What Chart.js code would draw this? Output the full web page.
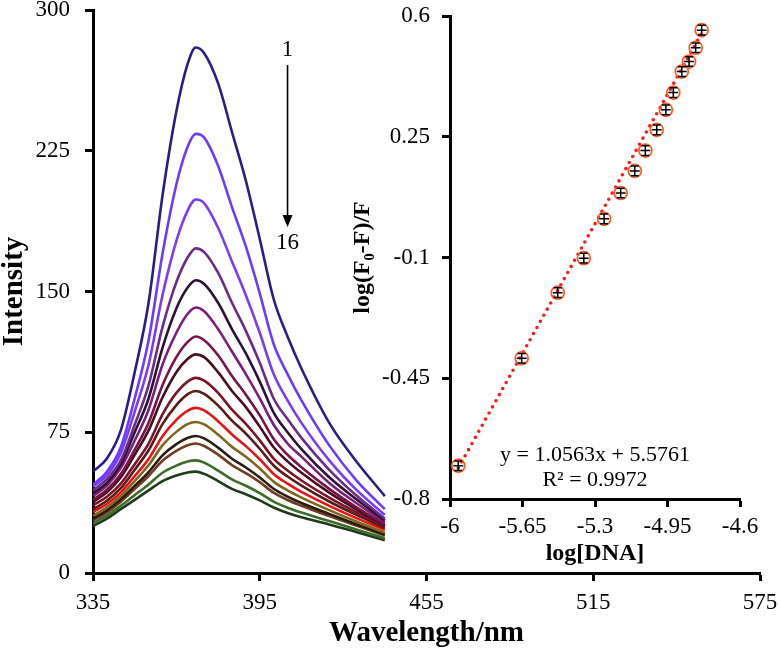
<!DOCTYPE html>
<html><head><meta charset="utf-8">
<script src="https://cdn.jsdelivr.net/npm/chart.js@4.4.0/dist/chart.umd.min.js"></script>
<style>
html,body{margin:0;padding:0;background:#fff;}
#wrap{position:relative;width:779px;height:652px;}
.box{position:absolute;top:0;}
</style></head><body>
<div id="wrap">
  <div class="box" style="left:0;width:779px;height:652px"><canvas id="main"></canvas></div>
  <div class="box" style="left:330px;width:449px;height:580px"><canvas id="inset"></canvas></div>
</div>
<script>
// ---------- main chart data ----------
const wavelengths = [335,340,345,350,355,360,365,369,372,375,380,385,390,395,400,405,410,420,430,440];
const spectrum1  = [54,61,76,107,144,201,246,271,280,277,261,235,209,178,146,126,109,80,59,41];
const spectrum2  = [47,54,67,93,124,170,207,227,234,232,217,195,174,149,122,106,92,68,49,34];
const spectrum3  = [46,52,64,86,111,148,177,193,199,197,184,166,148,128,106,92,80,60,44,31];
const spectrum4  = [44,50,60,79,100,131,155,168,173,171,160,144,129,112,93,82,72,55,41,29];
const spectrum5  = [42.5,48,58,75,93,120,141,152,156,154,144,130,117,102,85.5,75,66,51,39,28];
const spectrum6  = [41,46.6,56,70.6,87,111,128,138,141.5,139.5,130,118,106,93,79,69,62,48,37,27];
const spectrum7  = [39,44.4,52.7,65.7,80,100,115,123,126,124,116,105,95,84,71.4,63,56.4,44.8,34.8,26];
const spectrum8  = [38,43,51,63,76,93.5,107,114,116.5,115,107,97,88.4,78,67,59.5,53.4,42.8,33.7,25.5];
const spectrum9  = [36,40.6,47.6,58,69,84.5,96,102,104,102.5,96,87,79.5,70.7,61,54.6,49.3,40.2,32.2,25];
const spectrum10 = [34,38.5,45.2,55,65.4,79.3,89.5,95.2,97,95.5,89.3,81.2,74.3,66.2,57.3,51.4,46.6,38.1,30.8,24];
const spectrum11 = [32.5,36.8,43,51.6,60.8,72.9,81.6,86.4,88,86.6,80.9,73.8,67.6,60.6,52.8,47.6,43.2,35.8,29.1,23];
const spectrum12 = [30.5,35,41,49,57.4,68,75.2,79.3,80.5,79.2,73.8,67.2,61.9,55.7,48.7,44,40.2,33.5,27.3,21.5];
const spectrum13 = [29,33.4,39.3,46.4,53.8,62.7,68.7,71.9,73,71.7,66.8,60.9,56.2,50.9,44.9,40.7,37.3,31.5,25.8,20.5];
const spectrum14 = [28,32.3,38,44.8,51.7,59.8,65.1,68.1,69,67.7,63.1,57.5,53.2,48.4,42.8,38.9,35.8,30.3,25.1,20];
const spectrum15 = [26.5,30.6,35.8,41.5,47.2,53.4,57.2,59.4,60,58.8,54.6,49.9,46.5,42.6,38,34.8,32.2,27.7,23.1,18.5];
const spectrum16 = [25,29,34,39,44,49,52,53.6,54,52.8,49,44.8,42,38.7,34.9,32,29.7,25.9,21.7,17.5];
const spectra = [spectrum1,spectrum2,spectrum3,spectrum4,spectrum5,spectrum6,spectrum7,spectrum8,
                 spectrum9,spectrum10,spectrum11,spectrum12,spectrum13,spectrum14,spectrum15,spectrum16];
const curveColors = ['#2c1c88','#6b3bff','#7a3df5','#6a2c86','#2c1236','#7d1f78','#7a1448','#4a0c1e',
                     '#7a1428','#5a1c18','#e3141a','#80651c','#2b1c12','#6e3d22','#3d6b2a','#203a1c'];
const mainXTicks = [335,395,455,515,575];
const mainYTicks = [0,75,150,225,300];
// arrow annotation (data coordinates)
const arrowX = 405;
const arrowLabelTop = '1', arrowLabelTopY = 278.6;
const arrowStartY = 270.7, arrowEndY = 184.4;
const arrowLabelBottom = '16', arrowLabelBottomY = 175.8;

// ---------- inset data ----------
const logDNA   = [-5.960,-5.654,-5.480,-5.354,-5.256,-5.176,-5.108,-5.057,-5.002,-4.958,-4.922,-4.881,-4.846,-4.814,-4.785];
const logRatio = [-0.7035,-0.392,-0.202,-0.102,0.012,0.087,0.151,0.210,0.270,0.328,0.378,0.439,0.468,0.508,0.559];
const xErr = [0.024,0.024,0.024,0.024,0.024,0.024,0.024,0.024,0.024,0.024,0.024,0.024,0.024,0.024,0.024];
const yErr = [0.014,0.014,0.014,0.014,0.014,0.014,0.014,0.014,0.014,0.014,0.014,0.014,0.014,0.014,0.014];
const trendX = [-5.96,-4.785];
const trendY = [-0.71,0.55];
const insetXTicks  = [-6,-5.65,-5.3,-4.95,-4.6];
const insetXLabels = ['-6','-5.65','-5.3','-4.95','-4.6'];
const insetYTicks  = [-0.8,-0.45,-0.1,0.25,0.6];
const insetYLabels = ['-0.8','-0.45','-0.1','0.25','0.6'];
const equationText = 'y = 1.0563x + 5.5761';
const r2Text = 'R\u00B2 = 0.9972';
const equationX = -5.3, equationY = -0.6725, r2Y = -0.745;

const SERIF = "'Liberation Serif','Times New Roman',serif";

function axisCommon(){
  return {
    border:{display:true,color:'#000',width:3},
    grid:{display:true,drawOnChartArea:false,drawTicks:true,tickLength:8,tickWidth:3,tickColor:'#000',color:'#000'}
  };
}
function fixX(h){ return s=>{ s.height=h; s.paddingLeft=0; s.paddingRight=0; }; }
function fixY(w){ return s=>{ s.width=w; s.paddingTop=0; s.paddingBottom=0; }; }

// ---------- main chart ----------
const arrowPlugin = {
  id:'arrowPlugin',
  afterDatasetsDraw(chart){
    const {ctx, scales:{x,y}} = chart;
    const px = x.getPixelForValue(arrowX);
    ctx.save();
    ctx.fillStyle='#000'; ctx.strokeStyle='#000';
    ctx.font = "23px " + SERIF;
    ctx.textAlign='center'; ctx.textBaseline='middle';
    ctx.fillText(arrowLabelTop, px, y.getPixelForValue(arrowLabelTopY));
    ctx.fillText(arrowLabelBottom, px, y.getPixelForValue(arrowLabelBottomY));
    const y0 = y.getPixelForValue(arrowStartY), y1 = y.getPixelForValue(arrowEndY);
    ctx.lineWidth=1.6;
    ctx.beginPath(); ctx.moveTo(px,y0); ctx.lineTo(px,y1-10); ctx.stroke();
    ctx.beginPath(); ctx.moveTo(px,y1); ctx.lineTo(px-5,y1-12); ctx.lineTo(px+5,y1-12); ctx.closePath(); ctx.fill();
    ctx.restore();
  }
};

new Chart(document.getElementById('main'), {
  type:'line',
  data:{
    datasets: spectra.map((s,i)=>({
      data: wavelengths.map((w,j)=>({x:w,y:s[j]})),
      borderColor: curveColors[i],
      borderWidth: 2.6,
      pointRadius: 0,
      cubicInterpolationMode:'monotone',
      fill:false
    }))
  },
  options:{
    responsive:true, maintainAspectRatio:false, animation:false, devicePixelRatio:1,
    layout:{padding:{left:0,right:19,top:10,bottom:0}},
    plugins:{legend:{display:false},tooltip:{enabled:false}},
    scales:{
      x:Object.assign(axisCommon(),{
        type:'linear', min:335, max:575,
        afterBuildTicks:s=>{s.ticks = mainXTicks.map(v=>({value:v}));},
        afterFit:fixX(79),
        ticks:{color:'#000',font:{family:SERIF,size:23,lineHeight:0.8},padding:13,maxRotation:0,autoSkip:false,callback:v=>String(v)},
        title:{display:true,text:'Wavelength/nm',color:'#000',font:{family:SERIF,size:29,weight:'bold',lineHeight:1},padding:{top:0,bottom:3.5}}
      }),
      y:Object.assign(axisCommon(),{
        type:'linear', min:0, max:300,
        afterBuildTicks:s=>{s.ticks = mainYTicks.map(v=>({value:v}));},
        afterFit:fixY(93),
        ticks:{color:'#000',font:{family:SERIF,size:23,lineHeight:0.8},padding:15,autoSkip:false,callback:v=>String(v)},
        title:{display:true,text:'Intensity',color:'#000',font:{family:SERIF,size:29,weight:'bold',lineHeight:1},padding:{top:0,bottom:0}}
      })
    }
  },
  plugins:[arrowPlugin]
});

// ---------- inset chart ----------
const errorPlugin = {
  id:'errorPlugin',
  afterDatasetsDraw(chart){
    const {ctx, scales:{x,y}} = chart;
    ctx.save();
    ctx.strokeStyle='#000'; ctx.lineWidth=1.5;
    for(let i=0;i<logDNA.length;i++){
      const px=x.getPixelForValue(logDNA[i]), py=y.getPixelForValue(logRatio[i]);
      const t=y.getPixelForValue(logRatio[i]+yErr[i]), b=y.getPixelForValue(logRatio[i]-yErr[i]);
      const l=x.getPixelForValue(logDNA[i]-xErr[i]), r=x.getPixelForValue(logDNA[i]+xErr[i]);
      ctx.beginPath();
      ctx.moveTo(px,t); ctx.lineTo(px,b);
      ctx.moveTo(px-4,t); ctx.lineTo(px+4,t);
      ctx.moveTo(px-4,b); ctx.lineTo(px+4,b);
      ctx.moveTo(l,py); ctx.lineTo(r,py);
      ctx.stroke();
    }
    ctx.fillStyle='#000';
    ctx.font = "22px " + SERIF;
    ctx.textAlign='center'; ctx.textBaseline='middle';
    const ex=x.getPixelForValue(equationX);
    ctx.fillText(equationText, ex, y.getPixelForValue(equationY));
    ctx.fillText(r2Text, ex, y.getPixelForValue(r2Y));
    ctx.restore();
  }
};

new Chart(document.getElementById('inset'), {
  type:'scatter',
  data:{
    datasets:[
      {
        type:'scatter',
        data: logDNA.map((v,i)=>({x:v,y:logRatio[i]})),
        pointRadius:6.5, pointStyle:'circle',
        pointBorderColor:'#ff5a24', pointBackgroundColor:'rgba(0,0,0,0)', pointBorderWidth:1.7,
        order:1
      },
      {
        type:'line',
        data: trendX.map((v,i)=>({x:v,y:trendY[i]})),
        borderColor:'#f51e1e', borderWidth:3.6, borderDash:[0,7], borderCapStyle:'round',
        pointRadius:0, fill:false, order:2
      }
    ]
  },
  options:{
    responsive:true, maintainAspectRatio:false, animation:false, devicePixelRatio:1,
    layout:{padding:{left:0,right:39,top:16,bottom:0}},
    plugins:{legend:{display:false},tooltip:{enabled:false}},
    scales:{
      x:Object.assign(axisCommon(),{
        type:'linear', min:-6, max:-4.6,
        afterBuildTicks:s=>{s.ticks = insetXTicks.map(v=>({value:v}));},
        afterFit:fixX(81),
        ticks:{color:'#000',font:{family:SERIF,size:23,lineHeight:0.8},padding:10.5,maxRotation:0,autoSkip:false,callback:(v,i)=>insetXLabels[i]},
        title:{display:true,text:'log[DNA]',color:'#000',font:{family:SERIF,size:24,weight:'bold',lineHeight:1},padding:{top:0,bottom:14}}
      }),
      y:Object.assign(axisCommon(),{
        type:'linear', min:-0.8, max:0.6,
        afterBuildTicks:s=>{s.ticks = insetYTicks.map(v=>({value:v}));},
        afterFit:fixY(120),
        ticks:{color:'#000',font:{family:SERIF,size:23,lineHeight:0.8},padding:12,autoSkip:false,callback:(v,i)=>insetYLabels[i]},
        title:{display:true,text:'log(F\u2080-F)/F',color:'#000',font:{family:SERIF,size:24,weight:'bold',lineHeight:1},padding:{top:20.8,bottom:0}}
      })
    }
  },
  plugins:[errorPlugin]
});
</script>
</body></html>
